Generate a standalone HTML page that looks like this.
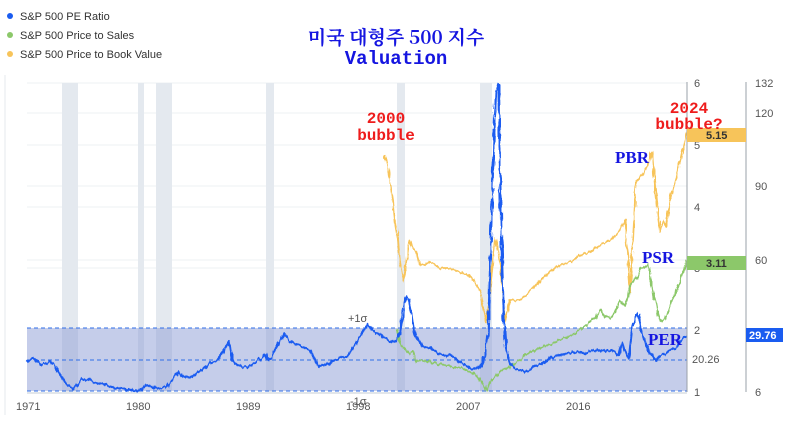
<!DOCTYPE html>
<html><head><meta charset="utf-8"><style>
body{margin:0;background:#fff;}
svg{display:block;font-family:"Liberation Sans",sans-serif;}
</style></head><body>
<svg width="802" height="433" viewBox="0 0 802 433">
<defs>
<filter id="j" x="-5%" y="-5%" width="110%" height="110%">
<feTurbulence type="fractalNoise" baseFrequency="0.35 0.08" numOctaves="2" seed="3"/>
<feDisplacementMap in="SourceGraphic" scale="5" xChannelSelector="R" yChannelSelector="G"/>
</filter>
</defs>
<rect width="802" height="433" fill="#fff"/>
<line x1="5" y1="75" x2="5" y2="415" stroke="#e6e8ec"/>
<g stroke="#eef0f3">
<line x1="27" y1="83" x2="687" y2="83"/><line x1="27" y1="113" x2="687" y2="113"/>
<line x1="27" y1="145" x2="687" y2="145"/><line x1="27" y1="186" x2="687" y2="186"/>
<line x1="27" y1="207" x2="687" y2="207"/><line x1="27" y1="260" x2="687" y2="260"/>
<line x1="27" y1="268" x2="687" y2="268"/>
</g>
<g fill="#e4e9ef">
<rect x="62" y="83" width="16" height="309"/><rect x="138" y="83" width="6" height="309"/>
<rect x="156" y="83" width="16" height="309"/><rect x="266" y="83" width="8" height="309"/>
<rect x="397" y="83" width="8" height="309"/><rect x="480" y="83" width="12" height="309"/>
</g>
<rect x="27" y="328" width="660" height="63" fill="#8b9bd6" opacity="0.5"/>
<g stroke="#2f6ee8" stroke-dasharray="4,3" stroke-width="1">
<line x1="27" y1="328" x2="687" y2="328"/><line x1="27" y1="360" x2="687" y2="360"/><line x1="27" y1="391" x2="687" y2="391"/>
</g>
<g filter="url(#j)">
<polyline fill="none" stroke="#f7c45a" stroke-width="1.8" stroke-linejoin="round" points="385,155 388,170 390,182 393,200 395,222 398,240 400,262 402,272 404,282 407,255 410,240 413,248 416,252 420,266 430,262 440,268 450,268 460,272 470,276 475,282 480,292 482,302 486,322 488,310 490,290 493,260 495,238 498,252 500,262 503,300 505,322 508,308 510,300 520,300 530,292 540,280 550,272 560,265 570,262 580,255 590,252 600,245 610,240 615,236 620,230 625,220 628,260 630,292 633,240 636,182 640,178 645,170 649,162 652,152 654,175 656,195 658,215 660,232 663,222 666,226 670,200 674,185 678,170 682,152 685,140 687,130"/>
<polyline fill="none" stroke="#8cc86a" stroke-width="1.8" stroke-linejoin="round" points="397,330 400,340 402,346 406,350 410,354 413,352 416,362 420,360 430,362 440,364 450,366 460,368 470,372 475,374 480,380 484,386 486,392 489,385 492,380 496,376 500,372 510,366 520,360 530,352 540,348 550,344 560,340 570,336 580,330 590,322 595,318 600,310 605,316 610,318 615,312 620,300 625,306 628,296 630,285 634,282 638,276 641,268 645,266 648,264 651,280 653,294 656,305 658,316 661,322 664,320 668,312 672,300 676,292 680,280 684,268 687,260"/>
<polyline fill="none" stroke="#1a5cf0" stroke-width="2.2" stroke-linejoin="round" points="27,362 32,358 38,362 42,365 50,362 54,364 58,372 64,380 70,387 74,389 78,383 82,379 88,380 95,382 105,385 115,388 125,389 137,391 142,389 146,385 152,387 160,389 166,387 172,380 178,372 184,377 190,378 198,372 205,368 212,362 218,360 222,354 226,346 229,342 232,360 236,364 242,367 250,366 256,362 262,357 265,354 268,360 272,356 276,348 281,340 285,334 290,342 296,345 305,348 310,350 318,366 325,365 333,361 340,357 347,356 353,348 358,340 362,333 366,328 368,324 372,330 378,334 385,338 392,342 396,340 400,334 403,312 406,296 409,300 412,315 415,336 418,340 422,346 430,348 440,354 450,356 460,362 470,368 476,370 481,366 485,356 488,338 490,270 492,200 494,140 496,92 499,84 500,170 502,260 504,320 506,348 510,364 515,368 525,372 535,366 545,362 555,356 565,354 575,352 585,353 595,350 605,351 612,350 618,356 622,342 626,354 629,358 632,330 635,318 638,313 641,326 644,340 648,350 652,356 656,361 660,356 665,354 670,350 675,348 680,342 684,338 687,336"/>
</g>
<line x1="687" y1="82" x2="687" y2="392" stroke="#9aa0a8"/>
<line x1="746" y1="82" x2="746" y2="392" stroke="#9aa0a8"/>
<line x1="27" y1="393" x2="687" y2="393" stroke="#c6ccd4"/>
<g font-size="11" fill="#555">
<text x="694" y="87">6</text><text x="694" y="149">5</text><text x="694" y="211">4</text>
<text x="694" y="272">3</text><text x="694" y="334">2</text><text x="694" y="396">1</text>
<text x="692" y="363">20.26</text>
<text x="755" y="87">132</text><text x="755" y="117">120</text><text x="755" y="190">90</text>
<text x="755" y="264">60</text><text x="755" y="396">6</text>
<text x="16" y="410">1971</text><text x="126" y="410">1980</text><text x="236" y="410">1989</text>
<text x="346" y="410">1998</text><text x="456" y="410">2007</text><text x="566" y="410">2016</text>
<text x="348" y="322">+1σ</text><text x="350" y="405">-1σ</text>
</g>
<rect x="687" y="128" width="59" height="14" fill="#f7c45a"/>
<text x="706" y="139" font-size="11" font-weight="bold" fill="#333">5.15</text>
<rect x="687" y="256" width="59" height="14" fill="#8cc86a"/>
<text x="706" y="267" font-size="11" font-weight="bold" fill="#333">3.11</text>
<rect x="746" y="328" width="37" height="14" fill="#1a5cf0"/>
<text x="749" y="339" font-size="11" font-weight="bold" fill="#fff">29.76</text>
<g font-size="11" fill="#333">
<circle cx="10" cy="16" r="3" fill="#1a5cf0"/><text x="20" y="20">S&amp;P 500 PE Ratio</text>
<circle cx="10" cy="35" r="3" fill="#8cc86a"/><text x="20" y="39">S&amp;P 500 Price to Sales</text>
<circle cx="10" cy="54" r="3" fill="#f7c45a"/><text x="20" y="58">S&amp;P 500 Price to Book Value</text>
</g>
<g font-family="'Liberation Serif','Noto Serif CJK SC',serif" fill="#1515e0" font-weight="bold">
<text x="396" y="44" font-size="19" text-anchor="middle" font-family="'Noto Serif CJK KR','NanumGothic',serif">미국 대형주 500 지수</text>
<text x="396" y="64" font-size="19" text-anchor="middle" font-family="'Liberation Mono',monospace">Valuation</text>
<text x="615" y="163" font-size="17">PBR</text>
<text x="642" y="263" font-size="17">PSR</text>
<text x="648" y="345" font-size="17">PER</text>
</g>
<g font-family="'Liberation Mono',monospace" fill="#ee1c1c" font-size="16" font-weight="bold" text-anchor="middle">
<text x="386" y="123">2000</text><text x="386" y="140">bubble</text>
<text x="689" y="113">2024</text><text x="689" y="129">bubble?</text>
</g>
</svg>
</body></html>
